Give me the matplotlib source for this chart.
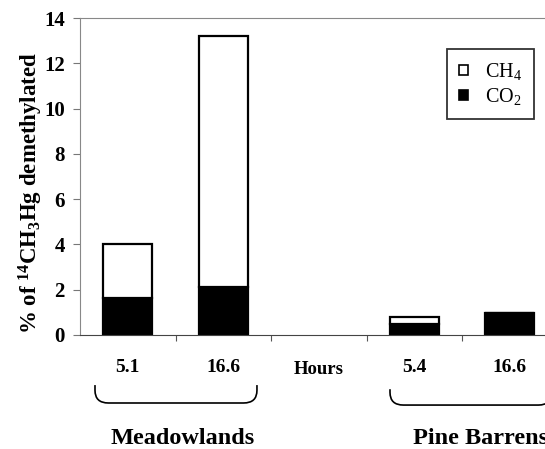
import matplotlib
matplotlib.use("Agg")
import matplotlib.pyplot as plt
from matplotlib.patches import Patch, PathPatch
from matplotlib.path import Path
import matplotlib.transforms as mtransforms

plt.rcParams['font.family'] = ['Liberation Serif', 'DejaVu Serif']
plt.rcParams['mathtext.fontset'] = 'custom'
plt.rcParams['mathtext.rm'] = 'Liberation Serif'
plt.rcParams['mathtext.bf'] = 'Liberation Serif:bold'
plt.rcParams['mathtext.it'] = 'Liberation Serif:italic'

# Data
categories = ["5.1", "16.6", "Hours", "5.4", "16.6"]
co2 = [1.65, 2.1, 0.0, 0.5, 0.97]
ch4 = [2.37, 11.1, 0.0, 0.28, 0.0]
has_bar = [True, True, False, True, True]
groups = ["Meadowlands", "Pine Barrens"]
yticks = [0, 2, 4, 6, 8, 10, 12, 14]

fig = plt.figure(figsize=(5.45, 4.49), dpi=100)
W, H = 545, 449
ax = fig.add_axes([80 / W, (449 - 335) / H, 477.5 / W, 317 / H])

xs = [i for i in range(len(categories)) if has_bar[i]]
bw = 0.51
ax.bar(xs, [co2[i] for i in xs], width=bw, color='black', edgecolor='black', linewidth=1.6)
ax.bar(xs, [ch4[i] for i in xs], bottom=[co2[i] for i in xs], width=bw,
       color='white', edgecolor='black', linewidth=1.6)

ax.set_xlim(-0.5, 4.5)
ax.set_ylim(0, 14)
ax.set_yticks(yticks)
ax.set_yticklabels([str(t) for t in yticks], fontsize=15, fontweight='bold')
ax.tick_params(axis='y', direction='out', length=5, width=0.8, color='#777777', pad=6)

ax.set_xticks(range(len(categories)))
ax.set_xticklabels([])
ax.set_xticks([0.5, 1.5, 2.5, 3.5], minor=True)
ax.tick_params(axis='x', which='major', length=0)
ax.tick_params(axis='x', which='minor', direction='out', length=4, width=0.8, color='#555555')

trans = mtransforms.blended_transform_factory(ax.transData, ax.transAxes)
for i, lab in enumerate(categories):
    if lab == "Hours":
        ax.text(i, -(370 - 335) / 317, lab, transform=trans, ha='center', va='center',
                fontsize=13.5, fontweight='bold')
    else:
        ax.text(i, -(367.5 - 335) / 317, lab, transform=trans, ha='center', va='center',
                fontsize=14, fontweight='bold')

for name, s in ax.spines.items():
    s.set_color('#888888')
    s.set_linewidth(0.8)
ax.spines['bottom'].set_color('#444444')
ax.spines['right'].set_visible(False)

fig.text(31 / W, 1 - 193 / H, "% of $^{\\mathbf{14}}$CH$_{\\mathbf{3}}$Hg demethylated",
         fontsize=16.5, fontweight='bold', rotation=90, ha='center', va='center')

# Braces
def brace(x0, x1, ytop, ybot, rx=0.14, ry=0.04):
    verts = [(x0, ytop), (x0, ybot + ry), (x0, ybot), (x0 + rx, ybot),
             (x1 - rx, ybot), (x1, ybot), (x1, ybot + ry), (x1, ytop)]
    codes = [Path.MOVETO, Path.LINETO, Path.CURVE3, Path.CURVE3,
             Path.LINETO, Path.CURVE3, Path.CURVE3, Path.LINETO]
    pp = PathPatch(Path(verts, codes), transform=trans, fill=False, edgecolor='black',
                   linewidth=1.2, clip_on=False)
    ax.add_patch(pp)

brace(-0.343, 1.353, -0.158, -0.2145)
brace(2.746, 4.44, -0.171, -0.221)

ax.text((183 - 80) / 95.5 - 0.5, -(438 - 335) / 317, groups[0], transform=trans,
        ha='center', va='center', fontsize=17.5, fontweight='bold')
ax.text((413 - 80) / 95.5 - 0.5, -(438 - 335) / 317, groups[1], transform=trans,
        ha='left', va='center', fontsize=17.5, fontweight='bold')

handles = [Patch(facecolor='white', edgecolor='black', linewidth=1.2, label='CH$_4$'),
           Patch(facecolor='black', edgecolor='black', linewidth=1.2, label='CO$_2$')]
leg = ax.legend(handles=handles, loc='upper left', bbox_to_anchor=(0.7686, 0.902),
                fontsize=14.5, frameon=True, fancybox=False, edgecolor='black',
                handlelength=0.45, handleheight=0.45, handletextpad=0.85,
                borderpad=0.6, labelspacing=0.2, borderaxespad=0)
leg.get_frame().set_linewidth(1.3)

fig.savefig("out.png", dpi=100)
